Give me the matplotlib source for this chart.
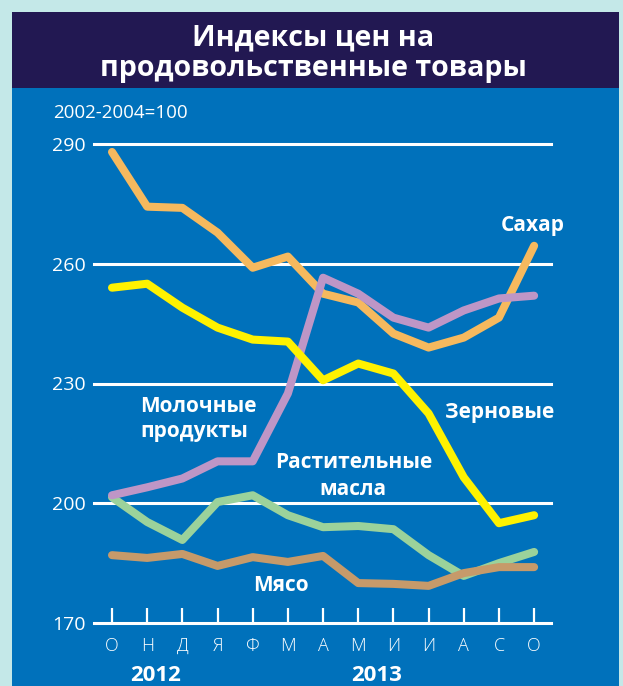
import numpy as np
import matplotlib.pyplot as plt
from matplotlib.patches import Rectangle

plt.rcParams['font.family'] = ['Open Sans', 'DejaVu Sans']

# month labels, Oct 2012 .. Oct 2013
months = ['О', 'Н', 'Д', 'Я', 'Ф', 'М', 'А', 'М', 'И', 'И', 'А', 'С', 'О']
years = ['2012', '2013']

# index values (2002-2004=100)
sugar = [288.0, 274.3, 274.0, 267.8, 259.0, 261.8, 252.5, 250.3, 242.5, 239.0, 241.5, 246.5, 264.5]
cereals = [254.0, 255.0, 249.0, 244.0, 241.0, 240.5, 230.8, 235.0, 232.5, 222.5, 206.5, 195.0, 197.0]
dairy = [202.0, 204.0, 206.2, 210.5, 210.5, 227.5, 256.5, 252.5, 246.5, 244.0, 248.3, 251.3, 252.0]
oils = [201.5, 195.3, 190.8, 200.3, 202.0, 197.0, 194.0, 194.3, 193.5, 187.0, 181.8, 185.0, 187.8]
meat = [187.0, 186.3, 187.3, 184.3, 186.5, 185.3, 186.8, 180.0, 179.8, 179.3, 182.5, 184.0, 184.0]

yticks = [170, 200, 230, 260, 290]

W, H = 623, 686
fig = plt.figure(figsize=(W/100, H/100), dpi=100)
fig.patch.set_facecolor('#c4e8e8')

# blue panel and dark title box
fig.add_artist(Rectangle((12/W, 0), 607/W, 1 - 12/H, transform=fig.transFigure,
                         facecolor='#0071bb', edgecolor='none', zorder=0))
fig.add_artist(Rectangle((12/W, 1 - 88/H), 607/W, 76/H, transform=fig.transFigure,
                         facecolor='#221852', edgecolor='none', zorder=0))

fig.text(313/W, 1 - 45/H, 'Индексы цен на', color='white', fontsize=20.6,
         fontweight='bold', ha='center', va='baseline')
fig.text(313/W, 1 - 76/H, 'продовольственные товары', color='white', fontsize=20.6,
         fontweight='bold', ha='center', va='baseline')
fig.text(53/W, 1 - 118/H, '2002-2004=100', color='white', fontsize=13.5,
         ha='left', va='baseline')

ax = fig.add_axes([94/W, 1 - 623/H, 457/W, 479/H])
ax.set_facecolor('none')
x = np.arange(len(months))
ax.set_xlim(-0.512, 12.48)
ax.set_ylim(170, 290)

for v in yticks:
    ax.axhline(v, color='white', lw=2.2, zorder=1, clip_on=False)

lw = 5.8
ax.plot(x, oils, color='#9bd29b', lw=lw, solid_capstyle='round', zorder=3, clip_on=False)
ax.plot(x, meat, color='#c69a6a', lw=lw, solid_capstyle='round', zorder=4, clip_on=False)
ax.plot(x, sugar, color='#f6b95e', lw=lw, solid_capstyle='round', zorder=5, clip_on=False)
ax.plot(x, dairy, color='#be96c6', lw=lw, solid_capstyle='round', zorder=6, clip_on=False)
ax.plot(x, cereals, color='#fff200', lw=lw, solid_capstyle='round', zorder=7, clip_on=False)

for s in ax.spines.values():
    s.set_visible(False)
ax.set_xticks(x)
ax.set_xticklabels([])
ax.set_yticks(yticks)
ax.tick_params(axis='x', direction='in', length=11, width=1.6, color='white')
ax.tick_params(axis='y', length=0, labelcolor='white', labelsize=14, pad=6)

for i, m in enumerate(months):
    ax.text(x[i], 163.0, m, color='white', fontsize=13, fontweight='light',
            ha='center', va='baseline', clip_on=False)

ax.text(1.25, 155.5, years[0], color='white', fontsize=16, fontweight='bold',
        ha='center', va='baseline', clip_on=False)
ax.text(7.53, 155.5, years[1], color='white', fontsize=16, fontweight='bold',
        ha='center', va='baseline', clip_on=False)

lab = dict(color='white', fontsize=15, fontweight='bold', va='baseline')
ax.text(11.95, 268.2, 'Сахар', ha='center', **lab)
ax.text(11.03, 221.25, 'Зерновые', ha='center', **lab)
ax.text(0.8, 222.75, 'Молочные', ha='left', **lab)
ax.text(0.8, 216.5, 'продукты', ha='left', **lab)
ax.text(6.87, 208.75, 'Растительные', ha='center', **lab)
ax.text(6.85, 202.0, 'масла', ha='center', **lab)
ax.text(4.79, 178.0, 'Мясо', ha='center', **lab)

fig.savefig('out.png', dpi=100, facecolor=fig.get_facecolor())
